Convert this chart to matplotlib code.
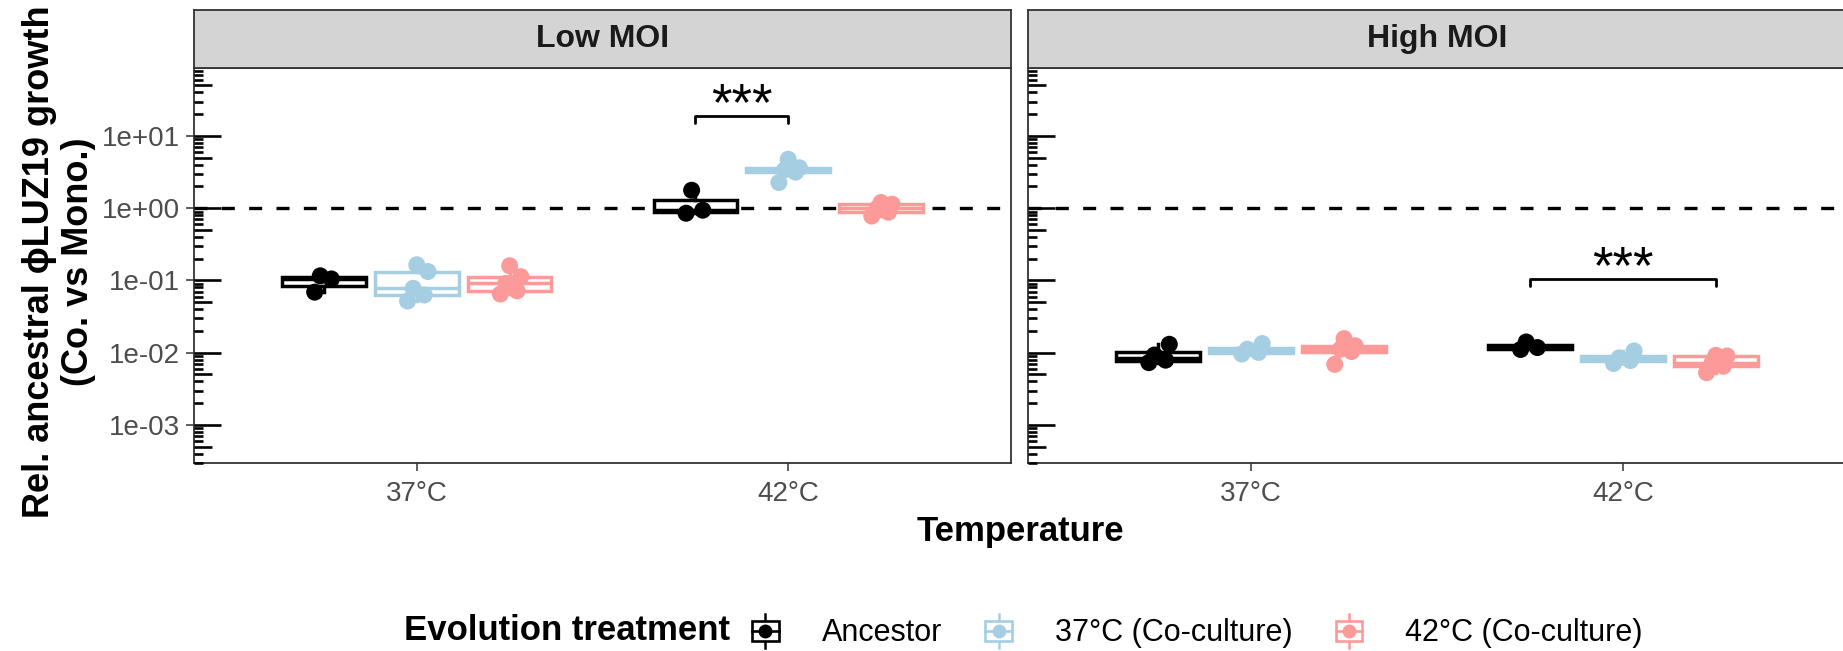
import numpy as np
import matplotlib
matplotlib.use("Agg")
import matplotlib.pyplot as plt
from matplotlib.lines import Line2D
from matplotlib.patches import Rectangle
from matplotlib.legend_handler import HandlerBase
from matplotlib.transforms import blended_transform_factory

plt.rcParams['font.family'] = ['Liberation Sans', 'DejaVu Sans']

# Data (relative growth)

panels = ['Low MOI', 'High MOI']
temps = ['37°C', '42°C']
treatments = ['Ancestor', '37°C (Co-culture)', '42°C (Co-culture)']

low_37_anc = [0.069, 0.105, 0.116]
low_37_c37 = [0.052, 0.063, 0.078, 0.133, 0.165]
low_37_c42 = [0.065, 0.072, 0.091, 0.113, 0.160]
low_42_anc = [0.853, 0.94, 1.775]
low_42_c37 = [2.27, 3.16, 3.39, 3.63, 4.76]
low_42_c42 = [0.78, 0.88, 1.0, 1.135, 1.2]

high_37_anc = [0.0073, 0.0079, 0.0093, 0.0131]
high_37_c37 = [0.0096, 0.0101, 0.0112, 0.0134]
high_37_c42 = [0.0069, 0.0104, 0.0112, 0.0125, 0.0157]
high_42_anc = [0.0111, 0.0118, 0.0141]
high_42_c37 = [0.0071, 0.0078, 0.0085, 0.0106]
high_42_c42 = [0.0053, 0.0065, 0.0073, 0.0090, 0.0092]

groups = {
    'Low MOI': [[low_37_anc, low_37_c37, low_37_c42],
                [low_42_anc, low_42_c37, low_42_c42]],
    'High MOI': [[high_37_anc, high_37_c37, high_37_c42],
                 [high_42_anc, high_42_c37, high_42_c42]],
}

# significance brackets: (temp index, treatment a, treatment b, bracket y, label)
sig_low = (1, 0, 1, 18.9, '***')
sig_high = (1, 0, 2, 0.104, '***')

# Style

COLORS = ['black', '#A6CEE3', '#FB9A99']
DODGE = 0.25
BOX_W = 0.225
JITTER = [-0.025, 0.02, -0.01, 0.03, 0.0]
GREY20 = '#333333'
GREY30 = '#4D4D4D'
YMIN, YMAX = 10 ** -3.526, 10 ** 1.941


def box_stats(vals):
    lv = np.log10(np.asarray(vals))
    q1, med, q3 = np.percentile(lv, [25, 50, 75])
    iqr = q3 - q1
    lo = lv[lv >= q1 - 1.5 * iqr].min()
    hi = lv[lv <= q3 + 1.5 * iqr].max()
    return dict(med=10 ** med, q1=10 ** q1, q3=10 ** q3,
                whislo=10 ** lo, whishi=10 ** hi, fliers=[])


def log_ticks(ax):
    tr = blended_transform_factory(ax.transAxes, ax.transData)
    w = ax.get_window_extent().width
    for d in range(-5, 3):
        for k in range(1, 10):
            v = k * 10.0 ** d
            if not (YMIN <= v <= YMAX):
                continue
            L = 27 if k == 1 else (18 if k == 5 else 9)
            ax.plot([0, L / w], [v, v], color='black', lw=1.9,
                    solid_capstyle='butt', transform=tr, zorder=4, clip_on=False)


W, H = 1843, 651
fig = plt.figure(figsize=(W / 100, H / 100), dpi=100)


def px_axes(x0, x1, y0, y1):
    return fig.add_axes([x0 / W, 1 - y1 / H, (x1 - x0) / W, (y1 - y0) / H])


panel_px = [(194, 1011), (1028, 1846)]
axes = []
for i, name in enumerate(panels):
    x0, x1 = panel_px[i]
    ax = px_axes(x0, x1, 68, 463)
    st = px_axes(x0, x1, 10, 68)
    axes.append(ax)

    # strip
    st.set_facecolor('#D4D4D4')
    st.set_xticks([])
    st.set_yticks([])
    for s in st.spines.values():
        s.set_color(GREY20)
        s.set_linewidth(1.3)
    st.text(0.5, 0.5, name, ha='center', va='center', fontsize=23,
            fontweight='bold', color='#1A1A1A', transform=st.transAxes)

    ax.set_yscale('log')
    ax.set_ylim(YMIN, YMAX)
    ax.set_xlim(0.4, 2.6)
    ax.axhline(1, color='black', lw=2.4, ls=(0, (3.9, 4.3)), zorder=1)

    for ti, temp in enumerate(temps):
        for gi, vals in enumerate(groups[name][ti]):
            x = ti + 1 + (gi - 1) * DODGE
            c = COLORS[gi]
            ax.bxp([box_stats(vals)], positions=[x], widths=BOX_W,
                   patch_artist=True, showfliers=False, showcaps=False,
                   manage_ticks=False,
                   boxprops=dict(facecolor='white', edgecolor=c, linewidth=2.5),
                   medianprops=dict(color=c, linewidth=2.5),
                   whiskerprops=dict(color=c, linewidth=2.5),
                   zorder=2)
            xs = [x + JITTER[j % len(JITTER)] for j in range(len(vals))]
            ax.scatter(xs, vals, s=150, color=c, edgecolors='none', zorder=3)

    ax.set_xticks([1, 2])
    ax.set_xticklabels(temps)
    ax.yaxis.set_minor_locator(matplotlib.ticker.NullLocator())
    ax.set_yticks([1e-3, 1e-2, 1e-1, 1e0, 1e1])
    ax.set_yticklabels([f'{v:.0e}' for v in [1e-3, 1e-2, 1e-1, 1e0, 1e1]])
    ax.tick_params(axis='both', which='major', length=6, width=1.1,
                   color=GREY20, labelcolor=GREY30, labelsize=20, pad=4)
    ax.tick_params(axis='x', pad=7)
    if i == 1:
        ax.tick_params(axis='y', left=False, labelleft=False)
    for s in ax.spines.values():
        s.set_color(GREY20)
        s.set_linewidth(1.3)
    log_ticks(ax)

# significance brackets
for ax, (ti, a, b, y, lab) in zip(axes, [sig_low, sig_high]):
    xa = ti + 1 + (a - 1) * DODGE
    xb = ti + 1 + (b - 1) * DODGE
    ylo = y / 10 ** 0.095
    ax.plot([xa, xa, xb, xb], [ylo, y, y, ylo], color='black', lw=2.0,
            solid_joinstyle='round', solid_capstyle='round', zorder=5)
    ax.text((xa + xb) / 2, y * 10 ** 0.143, lab, ha='center', va='center',
            fontsize=38, color='black', zorder=5)

# axis titles
fig.text(1020 / W, 1 - 532 / H, 'Temperature', ha='center', va='center',
         fontsize=25, fontweight='bold')
fig.text(59 / W, 1 - 262 / H, 'Rel. ancestral \u03d5LUZ19 growth\n(Co. vs Mono.)',
         rotation=90, ha='center', va='center', multialignment='center',
         fontsize=26, fontweight='bold', linespacing=1.16)


# legend with boxplot keys
class BoxKey(HandlerBase):
    def create_artists(self, legend, orig_handle, xdescent, ydescent,
                       width, height, fontsize, trans):
        c = orig_handle.get_color()
        cx = -xdescent + width / 2
        cy = -ydescent + height / 2
        bw, bh = fontsize * 0.88, height * 0.57
        wl = Line2D([cx, cx], [cy - height / 2, cy + height / 2], color=c,
                    lw=1.8, transform=trans)
        box = Rectangle((cx - bw / 2, cy - bh / 2), bw, bh, facecolor='white',
                        edgecolor=c, lw=1.9, transform=trans)
        med = Line2D([cx - bw / 2, cx + bw / 2], [cy, cy], color=c, lw=1.9,
                     transform=trans)
        dot = Line2D([cx], [cy], marker='o', color=c, markersize=10,
                     markeredgewidth=0, transform=trans)
        return [wl, box, med, dot]


handles = [Line2D([], [], color=c, label=t) for c, t in zip(COLORS, treatments)]
fig.text(730 / W, 1 - 631 / H, 'Evolution treatment', ha='right', va='center',
         fontsize=25, fontweight='bold')
fig.legend(handles=handles, handler_map={Line2D: BoxKey()},
           loc='center left', bbox_to_anchor=(741 / W, 1 - 631 / H),
           ncol=3, frameon=False, fontsize=22, handlelength=1.6,
           handleheight=1.37, handletextpad=1.05, columnspacing=1.04,
           borderpad=0, borderaxespad=0, labelcolor='black')

fig.savefig('out.png', dpi=100)
